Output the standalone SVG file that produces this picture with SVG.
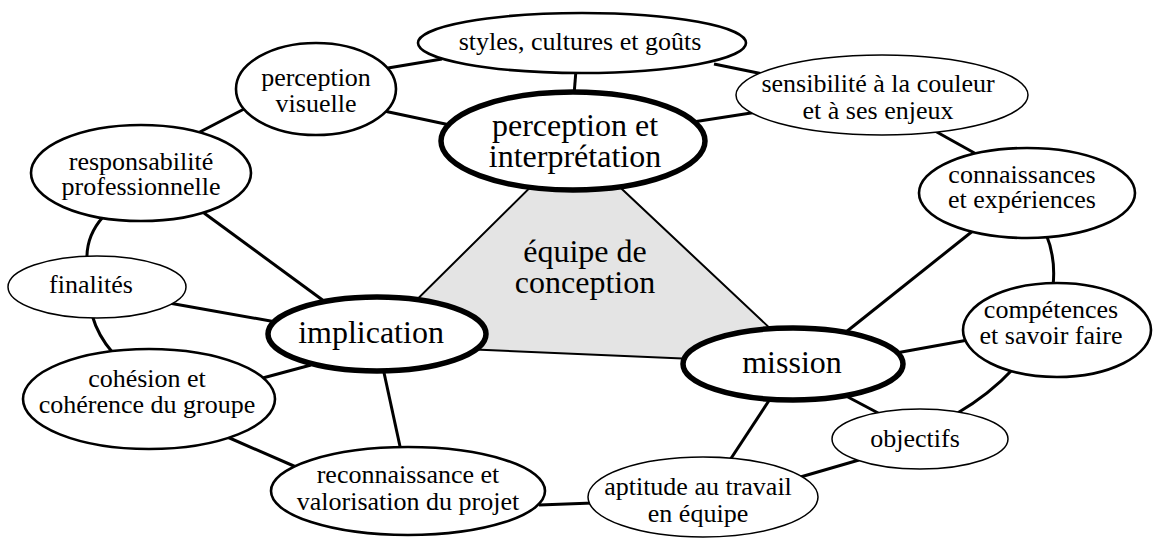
<svg xmlns="http://www.w3.org/2000/svg" width="1154" height="538" viewBox="0 0 1154 538" font-family="'Liberation Serif', 'Times New Roman', 'DejaVu Serif', serif">
<style>
.n{fill:#fff;stroke:#000;stroke-width:2.6}
.thin{stroke-width:1.5}
.main{stroke-width:5.5}
.c{stroke:#000;stroke-width:3;fill:none}
.tri{fill:#e4e4e4;stroke:#000;stroke-width:2}
text{font-family:'Liberation Serif','Times New Roman','DejaVu Serif',serif;fill:#000;text-anchor:middle}
.s{font-size:26px}
.b{font-size:32px}
</style>
<rect width="1154" height="538" fill="#fff"/>
<g id="center">
<polygon class="tri" points="574,144 371,345 808,364"/>
<text class="b" x="585" y="262">équipe de</text>
<text class="b" x="585" y="293">conception</text>
</g>
<g id="connectors">
<line class="c" x1="388" y1="68" x2="442" y2="59"/>
<line class="c" x1="576" y1="70" x2="574" y2="95"/>
<line class="c" x1="714" y1="64" x2="763" y2="74"/>
<line class="c" x1="384" y1="111" x2="450" y2="125"/>
<line class="c" x1="693" y1="122" x2="764" y2="111"/>
<line class="c" x1="926" y1="126" x2="978" y2="155"/>
<line class="c" x1="246" y1="108" x2="196" y2="134"/>
<path class="c" d="M103,217 Q86,236 87,260"/>
<line class="c" x1="204" y1="213" x2="328" y2="304"/>
<line class="c" x1="169" y1="303" x2="276" y2="322"/>
<path class="c" d="M92,315 Q98,336 113,353"/>
<line class="c" x1="259" y1="379" x2="311" y2="365"/>
<line class="c" x1="225" y1="436" x2="303" y2="470"/>
<line class="c" x1="383" y1="368" x2="401" y2="451"/>
<line class="c" x1="539" y1="505" x2="593" y2="503"/>
<line class="c" x1="772" y1="396" x2="728" y2="463"/>
<line class="c" x1="797" y1="478" x2="859" y2="460"/>
<line class="c" x1="846" y1="396" x2="880" y2="414"/>
<path class="c" d="M956,414 Q990,394 1013,369"/>
<line class="c" x1="896" y1="353" x2="968" y2="340"/>
<line class="c" x1="841" y1="336" x2="974" y2="230"/>
<path class="c" d="M1046,234 Q1056,258 1053,286"/>
</g>
<g id="node-styles">
<ellipse class="n" cx="582" cy="43" rx="164" ry="30"/>
<text class="s" x="580" y="50">styles, cultures et goûts</text>
</g>
<g id="node-perception-visuelle">
<ellipse class="n" cx="316" cy="89" rx="80" ry="46"/>
<text class="s" x="316" y="86">perception</text>
<text class="s" x="316" y="112">visuelle</text>
</g>
<g id="node-sensibilite">
<ellipse class="n thin" cx="882" cy="95" rx="146" ry="40"/>
<text class="s" x="878" y="92">sensibilité à la couleur</text>
<text class="s" x="878" y="119">et à ses enjeux</text>
</g>
<g id="node-perception-interpretation">
<ellipse class="n main" cx="573" cy="141" rx="132" ry="49"/>
<text class="b" x="575" y="136">perception et</text>
<text class="b" x="575" y="167">interprétation</text>
</g>
<g id="node-responsabilite">
<ellipse class="n" cx="141" cy="173" rx="110" ry="48"/>
<text class="s" x="141" y="170">responsabilité</text>
<text class="s" x="141" y="195">professionnelle</text>
</g>
<g id="node-connaissances">
<ellipse class="n" cx="1027" cy="193" rx="108" ry="45"/>
<text class="s" x="1022" y="183">connaissances</text>
<text class="s" x="1022" y="208">et expériences</text>
</g>
<g id="node-finalites">
<ellipse class="n thin" cx="97" cy="287" rx="89" ry="31"/>
<text class="s" x="91" y="293">finalités</text>
</g>
<g id="node-implication">
<ellipse class="n main" cx="377" cy="334" rx="109" ry="37"/>
<text class="b" x="371" y="343">implication</text>
</g>
<g id="node-competences">
<ellipse class="n" cx="1057" cy="330" rx="94" ry="47"/>
<text class="s" x="1051" y="318">compétences</text>
<text class="s" x="1051" y="344">et savoir faire</text>
</g>
<g id="node-mission">
<ellipse class="n main" cx="793" cy="364" rx="110" ry="36"/>
<text class="b" x="792" y="373">mission</text>
</g>
<g id="node-cohesion">
<ellipse class="n" cx="149" cy="399" rx="126" ry="50"/>
<text class="s" x="147" y="387">cohésion et</text>
<text class="s" x="147" y="413">cohérence du groupe</text>
</g>
<g id="node-objectifs">
<ellipse class="n thin" cx="920" cy="439" rx="88" ry="30"/>
<text class="s" x="915" y="447">objectifs</text>
</g>
<g id="node-reconnaissance">
<ellipse class="n" cx="408" cy="491" rx="137" ry="44"/>
<text class="s" x="408" y="483">reconnaissance et</text>
<text class="s" x="408" y="510">valorisation du projet</text>
</g>
<g id="node-aptitude">
<ellipse class="n thin" cx="703" cy="497" rx="115" ry="40"/>
<text class="s" x="698" y="495">aptitude au travail</text>
<text class="s" x="698" y="522">en équipe</text>
</g>
</svg>
